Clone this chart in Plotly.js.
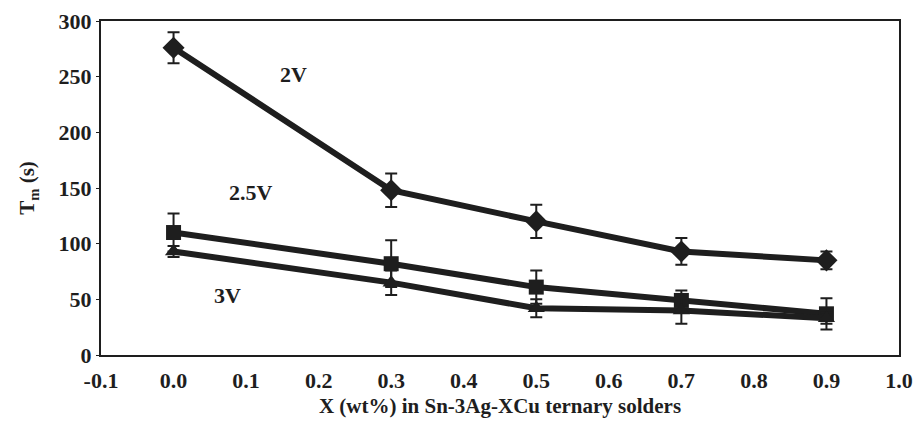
<!DOCTYPE html>
<html>
<head>
<meta charset="utf-8">
<script src="https://cdn.plot.ly/plotly-3.0.1.min.js"></script>
<style>html,body{margin:0;padding:0;background:#fff;}#chart{width:914px;height:423px;}</style>
</head>
<body>
<div id="chart"></div>
<script>
const xValues = [0.0, 0.3, 0.5, 0.7, 0.9];
const tm2V = [276, 148, 120, 93, 85];
const err2V = [14, 15, 15, 12, 8];
const tm25V = [110, 82, 61, 49, 37];
const err25V = [17, 21, 15, 9, 14];
const tm3V = [93, 65, 42, 40, 33];
const err3V = [5, 11, 8, 12, 5];
const seriesLabels = ["2V", "2.5V", "3V"];
const xTickVals = [-0.1, 0.0, 0.1, 0.2, 0.3, 0.4, 0.5, 0.6, 0.7, 0.8, 0.9, 1.0];
const yTickVals = [0, 50, 100, 150, 200, 250, 300];

const ink = '#1e1e1e';
const font = "'Liberation Serif', 'Times New Roman', serif";
const fnt = (s) => ({family: font, size: s, weight: 700, color: ink});

function series(y, err, symbol, size, name) {
  return {
    x: xValues, y: y, name: name, type: 'scatter', mode: 'lines+markers',
    line: {color: ink, width: 6},
    marker: {symbol: symbol, size: size, color: ink},
    error_y: {type: 'data', array: err, visible: true, color: ink, thickness: 2, width: 6},
    showlegend: false
  };
}

const data = [
  series(tm2V, err2V, 'diamond', 17, seriesLabels[0]),
  series(tm25V, err25V, 'square', 15, seriesLabels[1]),
  series(tm3V, err3V, 'triangle-up', 15, seriesLabels[2])
];

const layout = {
  width: 914, height: 423,
  margin: {l: 101, r: 15, t: 21, b: 68},
  paper_bgcolor: '#fff', plot_bgcolor: '#fff',
  font: fnt(22),
  xaxis: {
    range: [-0.1, 1.0], tickvals: xTickVals,
    ticktext: xTickVals.map(v => v.toFixed(1)),
    showgrid: false, zeroline: false,
    showline: true, linecolor: ink, linewidth: 2, mirror: true,
    ticks: '', ticklabelstandoff: 5, tickfont: fnt(22),
    title: {text: 'X (wt%) in Sn-3Ag-XCu ternary solders', font: fnt(21), standoff: 6}
  },
  yaxis: {
    range: [0, 300], tickvals: yTickVals,
    showgrid: false, zeroline: false,
    showline: true, linecolor: ink, linewidth: 2, mirror: true,
    ticks: 'outside', ticklen: 3, tickwidth: 1, tickcolor: ink,
    tickfont: fnt(22),
    title: {text: 'T<sub>m</sub> (s)', font: fnt(21), standoff: 18}
  },
  annotations: [
    {x: 0.165, y: 252, xref: 'x', yref: 'y', text: seriesLabels[0], showarrow: false, font: fnt(22)},
    {x: 0.107, y: 146, xref: 'x', yref: 'y', text: seriesLabels[1], showarrow: false, font: fnt(22)},
    {x: 0.074, y: 53, xref: 'x', yref: 'y', text: seriesLabels[2], showarrow: false, font: fnt(22)}
  ]
};

Plotly.newPlot('chart', data, layout, {displayModeBar: false, staticPlot: true});
</script>
</body>
</html>
